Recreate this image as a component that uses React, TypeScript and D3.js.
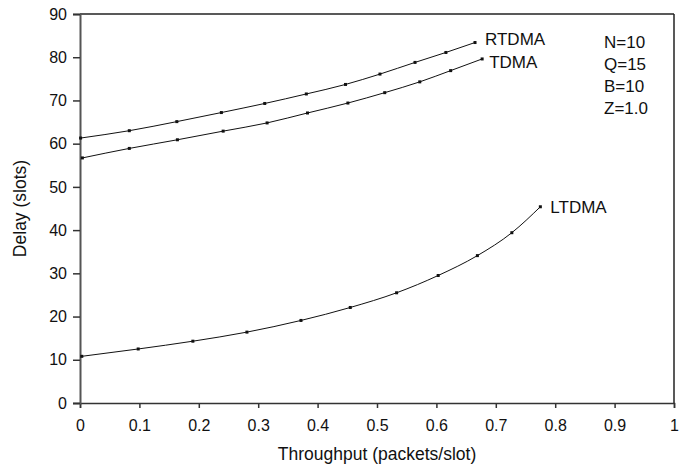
import * as d3 from "d3";
import React from "react";

// throughput (packets/slot) vs delay (slots)
const rtdmaX = [0.001, 0.083, 0.163, 0.238, 0.311, 0.381, 0.447, 0.505, 0.564, 0.616, 0.665];
const rtdmaY = [61.3, 63.0, 65.1, 67.2, 69.3, 71.5, 73.7, 76.1, 78.8, 81.1, 83.4];

const tdmaX = [0.004, 0.083, 0.164, 0.241, 0.315, 0.383, 0.451, 0.513, 0.572, 0.624, 0.677];
const tdmaY = [56.7, 58.9, 60.9, 62.9, 64.8, 67.1, 69.4, 71.8, 74.3, 76.9, 79.6];

const ltdmaX = [0.003, 0.098, 0.19, 0.281, 0.372, 0.455, 0.533, 0.603, 0.669, 0.727, 0.775];
const ltdmaY = [10.8, 12.5, 14.3, 16.4, 19.1, 22.1, 25.5, 29.5, 34.1, 39.4, 45.4];

const seriesNames = ["RTDMA", "TDMA", "LTDMA"];
const params = ["N=10", "Q=15", "B=10", "Z=1.0"];

const xTicks = [0, 0.1, 0.2, 0.3, 0.4, 0.5, 0.6, 0.7, 0.8, 0.9, 1];
const yTicks = [0, 10, 20, 30, 40, 50, 60, 70, 80, 90];

const W = 688;
const H = 468;
const margin = { top: 14, right: 14, bottom: 65, left: 80 };
const FONT = "'Liberation Sans', Arial, Helvetica, sans-serif";

export default function App() {
  const ref = React.useRef<SVGSVGElement>(null);

  React.useEffect(() => {
    if (!ref.current) return;
    const svg = d3.select(ref.current);
    svg.selectAll("*").remove();

    const iw = W - margin.left - margin.right;
    const ih = H - margin.top - margin.bottom;

    const x = d3.scaleLinear().domain([0, 1]).range([0, iw]);
    const y = d3.scaleLinear().domain([0, 90]).range([ih, 0]);

    const g = svg
      .append("g")
      .attr("transform", `translate(${margin.left},${margin.top})`);

    // 枠（上と右）
    g.append("line")
      .attr("x1", 0).attr("x2", iw).attr("y1", 0).attr("y2", 0)
      .attr("stroke", "#222").attr("stroke-width", 1.5);
    g.append("line")
      .attr("x1", iw).attr("x2", iw).attr("y1", 0).attr("y2", ih)
      .attr("stroke", "#222").attr("stroke-width", 1.5);

    // X軸
    const xAxis = g
      .append("g")
      .attr("transform", `translate(0,${ih})`)
      .call(
        d3.axisBottom(x)
          .tickValues(xTicks)
          .tickSize(5)
          .tickPadding(12)
          .tickFormat((d) => d3.format("~g")(d as number))
      );
    xAxis.select(".domain").attr("stroke", "#333").attr("stroke-width", 1.5);
    xAxis.selectAll(".tick line").attr("stroke", "#333").attr("stroke-width", 1.5);
    xAxis.selectAll("text")
      .attr("font-family", FONT).attr("font-size", 16).attr("fill", "#111");

    // Y軸
    const yAxis = g
      .append("g")
      .call(d3.axisLeft(y).tickValues(yTicks).tickSize(7).tickPadding(6));
    yAxis.select(".domain").attr("stroke", "#555").attr("stroke-width", 2);
    yAxis.selectAll(".tick line").attr("stroke", "#333").attr("stroke-width", 1.5);
    yAxis.selectAll("text")
      .attr("font-family", FONT).attr("font-size", 16).attr("fill", "#111");

    // 軸タイトル
    svg.append("text")
      .attr("x", margin.left + iw / 2)
      .attr("y", 460)
      .attr("text-anchor", "middle")
      .attr("font-family", FONT).attr("font-size", 17.5).attr("fill", "#111")
      .text("Throughput (packets/slot)");
    svg.append("text")
      .attr("transform", `translate(26,${margin.top + ih / 2}) rotate(-90)`)
      .attr("text-anchor", "middle")
      .attr("font-family", FONT).attr("font-size", 17.5).attr("fill", "#111")
      .text("Delay (slots)");

    // 系列
    const series = [
      { name: seriesNames[0], xs: rtdmaX, ys: rtdmaY, dx: 10, dy: 2 },
      { name: seriesNames[1], xs: tdmaX, ys: tdmaY, dx: 7, dy: 9 },
      { name: seriesNames[2], xs: ltdmaX, ys: ltdmaY, dx: 10, dy: 6 },
    ];

    const line = d3
      .line<[number, number]>()
      .x((d) => x(d[0]))
      .y((d) => y(d[1]))
      .curve(d3.curveMonotoneX);

    series.forEach((s) => {
      const pts: [number, number][] = s.xs.map((v, i) => [v, s.ys[i]]);
      g.append("path")
        .attr("d", line(pts))
        .attr("fill", "none")
        .attr("stroke", "#111")
        .attr("stroke-width", 1);

      g.selectAll(null)
        .data(pts)
        .enter()
        .append("rect")
        .attr("x", (d) => x(d[0]) - 1.5)
        .attr("y", (d) => y(d[1]) - 1.5)
        .attr("width", 3)
        .attr("height", 3)
        .attr("fill", "#111");

      const last = pts[pts.length - 1];
      g.append("text")
        .attr("x", x(last[0]) + s.dx)
        .attr("y", y(last[1]) + s.dy)
        .attr("font-family", FONT).attr("font-size", 17).attr("fill", "#111")
        .text(s.name);
    });

    // パラメータ
    svg.append("g")
      .selectAll("text")
      .data(params)
      .enter()
      .append("text")
      .attr("x", 604)
      .attr("y", (_, i) => 48 + i * 22)
      .attr("font-family", FONT).attr("font-size", 17).attr("fill", "#111")
      .text((d) => d);
  }, []);

  return (
    <div style={{ position: "absolute", left: 0, top: 0, background: "#fff" }}>
      <svg ref={ref} width={W} height={H} style={{ display: "block" }} />
    </div>
  );
}
